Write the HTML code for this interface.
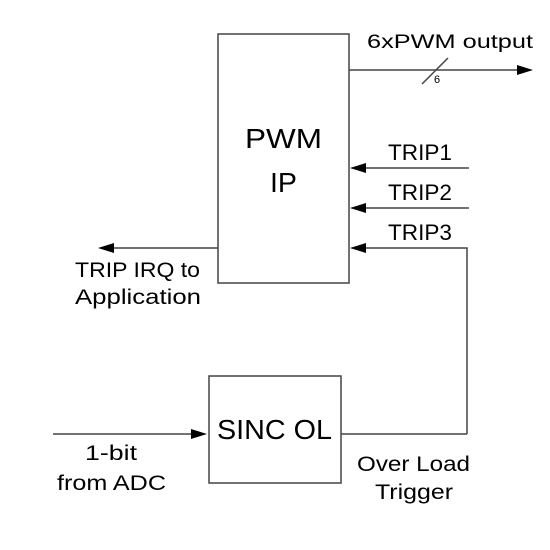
<!DOCTYPE html>
<html><head><style>body{margin:0;background:#fff}svg{display:block}text{font-family:"Liberation Sans",sans-serif;fill:#000}</style></head>
<body>
<svg width="550" height="550" viewBox="0 0 550 550">
<g stroke="#444" stroke-width="1.5" fill="none">
<rect x="218" y="34" width="131" height="249" fill="#fff"/>
<rect x="209" y="376" width="132" height="107" fill="#fff"/>
<line x1="349" y1="70" x2="520" y2="70"/>
<line x1="422" y1="84" x2="448" y2="58"/>
<line x1="469" y1="168" x2="363" y2="168"/>
<line x1="469" y1="208" x2="363" y2="208"/>
<polyline points="467,434 467,248 363,248"/>
<line x1="218" y1="248" x2="111" y2="248"/>
<line x1="53" y1="434" x2="194" y2="434"/>
<line x1="341" y1="434" x2="467" y2="434"/>
</g>
<g fill="#000">
<path d="M533,70L517,65L517,75z"/>
<path d="M350,168L366,163L366,173z"/>
<path d="M350,208L366,203L366,213z"/>
<path d="M350,248L366,243L366,253z"/>
<path d="M98,248L114,243L114,253z"/>
<path d="M207,434L191,429L191,439z"/>
</g>
<text x="367" y="48" font-size="19" textLength="166" lengthAdjust="spacingAndGlyphs">6xPWM output</text>
<text x="434" y="83" font-size="11">6</text>
<text x="245" y="148" font-size="28" textLength="77" lengthAdjust="spacingAndGlyphs">PWM</text>
<text x="270" y="192" font-size="28" textLength="27" lengthAdjust="spacingAndGlyphs">IP</text>
<text x="388" y="160" font-size="22" textLength="64" lengthAdjust="spacingAndGlyphs">TRIP1</text>
<text x="388" y="200" font-size="22" textLength="64" lengthAdjust="spacingAndGlyphs">TRIP2</text>
<text x="388" y="240" font-size="22" textLength="64" lengthAdjust="spacingAndGlyphs">TRIP3</text>
<text x="75" y="277" font-size="21" textLength="125" lengthAdjust="spacingAndGlyphs">TRIP IRQ to</text>
<text x="75" y="304" font-size="21" textLength="126" lengthAdjust="spacingAndGlyphs">Application</text>
<text x="217" y="439" font-size="28" textLength="115" lengthAdjust="spacingAndGlyphs">SINC OL</text>
<text x="85" y="460" font-size="21" textLength="52" lengthAdjust="spacingAndGlyphs">1-bit</text>
<text x="57" y="490" font-size="21" textLength="109" lengthAdjust="spacingAndGlyphs">from ADC</text>
<text x="357" y="471" font-size="21" textLength="113" lengthAdjust="spacingAndGlyphs">Over Load</text>
<text x="375" y="499" font-size="21" textLength="78" lengthAdjust="spacingAndGlyphs">Trigger</text>
</svg>
</body></html>
